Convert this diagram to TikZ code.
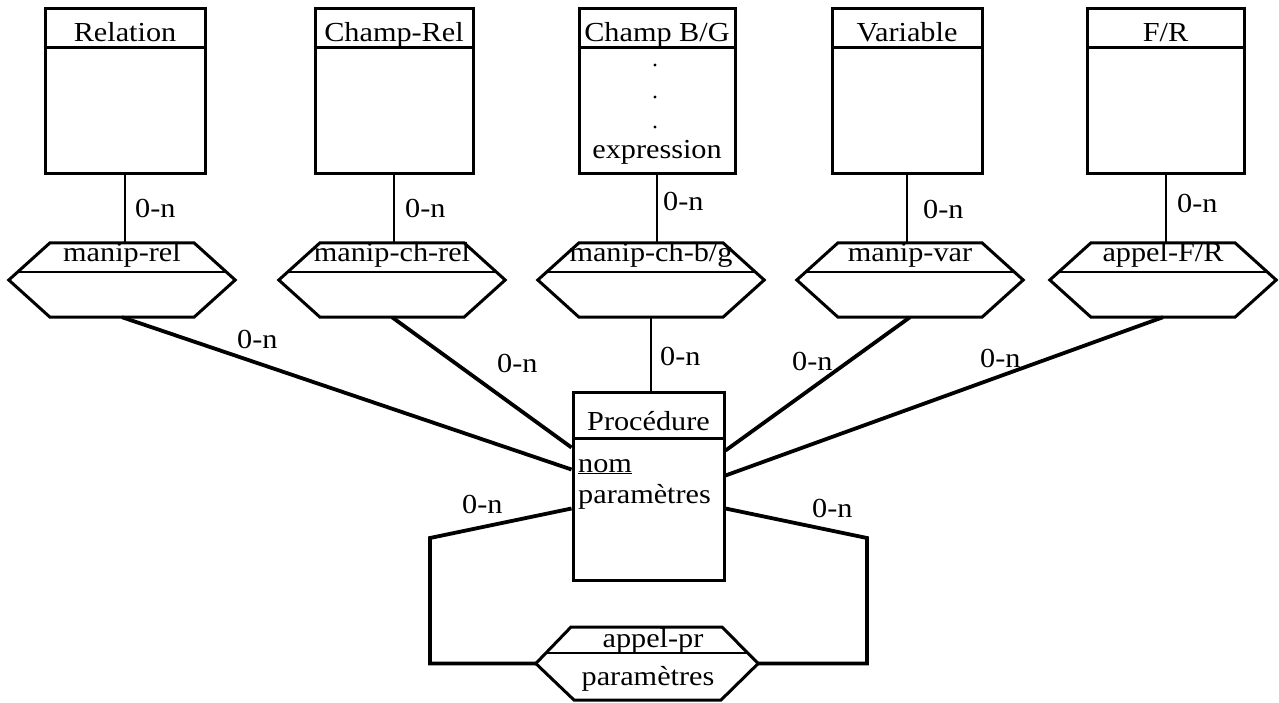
\documentclass[tikz,border=0pt]{standalone}
\usepackage{fontspec}
\setmainfont{Liberation Serif}[FakeStretch=1.1]
\begin{document}
\begin{tikzpicture}[x=1pt,y=-1pt,
  txt/.style={font=\fontsize{27.5}{31}\selectfont, inner sep=0pt},
  boxline/.style={line width=3pt},
  entbox/.style={draw, boxline, minimum height=165pt, inner sep=0pt},
  thinline/.style={line width=2pt},
  heavyline/.style={line width=3.8pt, line join=miter},
  hexline/.style={line width=3pt, line join=miter},
  sepline/.style={line width=2.4pt}]
\useasboundingbox[fill=white] (0,0) rectangle (1279,702);

% entity: name, centre x, width, title
\newcommand\entity[4]{%
  \node[entbox, minimum width=#3pt] (#1) at (#2,90.5) {};
  \draw[boxline] ([yshift=-41pt]#1.north west) -- ([yshift=-41pt]#1.north east);
  \node[txt, anchor=base] (#1-t) at ([yshift=-35pt]#1.north) {#4};
}
% association: name, centre x, label
\newcommand\assoc[3]{%
  \node[inner sep=0pt, minimum width=226pt, minimum height=74pt] (#1) at (#2,280) {};
  \draw[hexline] ([xshift=-72pt]#1.north) -- ([xshift=72pt]#1.north) -- (#1.east)
    -- ([xshift=72pt]#1.south) -- ([xshift=-72pt]#1.south) -- (#1.west) -- cycle;
  \draw[sepline] ([xshift=-104pt,yshift=-29pt]#1.north) -- ([xshift=104pt,yshift=-29pt]#1.north);
  \node[txt, anchor=base] (#1-t) at ([yshift=-19pt]#1.north) {#3};
}

% entities
\entity{rel}{125}{160}{Relation}
\entity{chrel}{394}{158}{Champ-Rel}
\entity{chbg}{657}{156}{Champ B/G}
\entity{var}{907}{150}{Variable}
\entity{fr}{1165.5}{157}{F/R}
\foreach \yy in {65,97,127} \fill (655,\yy) circle (1.7pt);
\node[txt, anchor=base] (expr) at (657,158) {expression};

% associations
\assoc{mrel}{122}{manip-rel}
\assoc{mchrel}{392}{manip-ch-rel}
\assoc{mchbg}{651}{manip-ch-b/g}
\assoc{mvar}{910}{manip-var}
\assoc{afr}{1163}{appel-F/R}

% procedure entity
\node[draw, boxline, inner sep=0pt, minimum width=151pt, minimum height=188pt] (proc) at (648.5,486) {};
\draw[boxline] ([yshift=-48pt]proc.north west) -- ([yshift=-48pt]proc.north east);
\node[txt, anchor=base] (proc-t) at (648.5,430) {Procédure};
\node[txt, anchor=base west] (nom) at (578,472) {\underline{nom}};
\node[txt, anchor=base west] (par) at (578,503) {paramètres};

% recursive association
\node[inner sep=0pt, minimum width=222pt, minimum height=73pt] (apr) at (647,663.5) {};
\draw[hexline] (571,627) -- (722,627) -- (apr.east) -- (721,700) -- (574,700) -- (apr.west) -- cycle;
\draw[sepline] (546,653) -- (748,653);
\node[txt, anchor=base] (apr-t) at (653,647) {appel-pr};
\node[txt, anchor=base] (apr-b) at (648,685) {paramètres};

% entity -- association links
\draw[thinline] (rel.south) -- (rel.south |- mrel.north);
\draw[thinline] (chrel.south) -- (chrel.south |- mchrel.north);
\draw[thinline] (chbg.south) -- (chbg.south |- mchbg.north);
\draw[thinline] (var.south) -- (var.south |- mvar.north);
\draw[thinline] (fr.south) -- (fr.south |- afr.north);
\node[txt, anchor=base west] at (135,217) {0-n};
\node[txt, anchor=base west] at (405,217) {0-n};
\node[txt, anchor=base west] at (663,210) {0-n};
\node[txt, anchor=base west] at (923,218) {0-n};
\node[txt, anchor=base west] at (1177,212) {0-n};

% association -- procedure links
\draw[heavyline] (mrel.south) -- ([yshift=-79pt]proc.north west);
\draw[heavyline] (mchrel.south) -- ([yshift=-57pt]proc.north west);
\draw[thinline] (mchbg.south) -- (mchbg.south |- proc.north);
\draw[heavyline] (mvar.south) -- ([yshift=-60pt]proc.north east);
\draw[heavyline] (afr.south) -- ([yshift=-85pt]proc.north east);
\node[txt, anchor=base west] at (237,348) {0-n};
\node[txt, anchor=base west] at (497,372) {0-n};
\node[txt, anchor=base west] at (660,365) {0-n};
\node[txt, anchor=base west] at (792,370) {0-n};
\node[txt, anchor=base west] at (980,367) {0-n};

% recursive loop
\coordinate (l1) at (430,538);
\coordinate (l2) at (430,663.5);
\coordinate (r1) at (867,538);
\coordinate (r2) at (867,663.5);
\draw[heavyline] ([yshift=-118pt]proc.north west) -- (l1) -- (l2) -- (apr.west);
\draw[heavyline] ([yshift=-118pt]proc.north east) -- (r1) -- (r2) -- (apr.east);
\node[txt, anchor=base west] at (462,513) {0-n};
\node[txt, anchor=base west] at (812,517) {0-n};
\end{tikzpicture}
\end{document}
